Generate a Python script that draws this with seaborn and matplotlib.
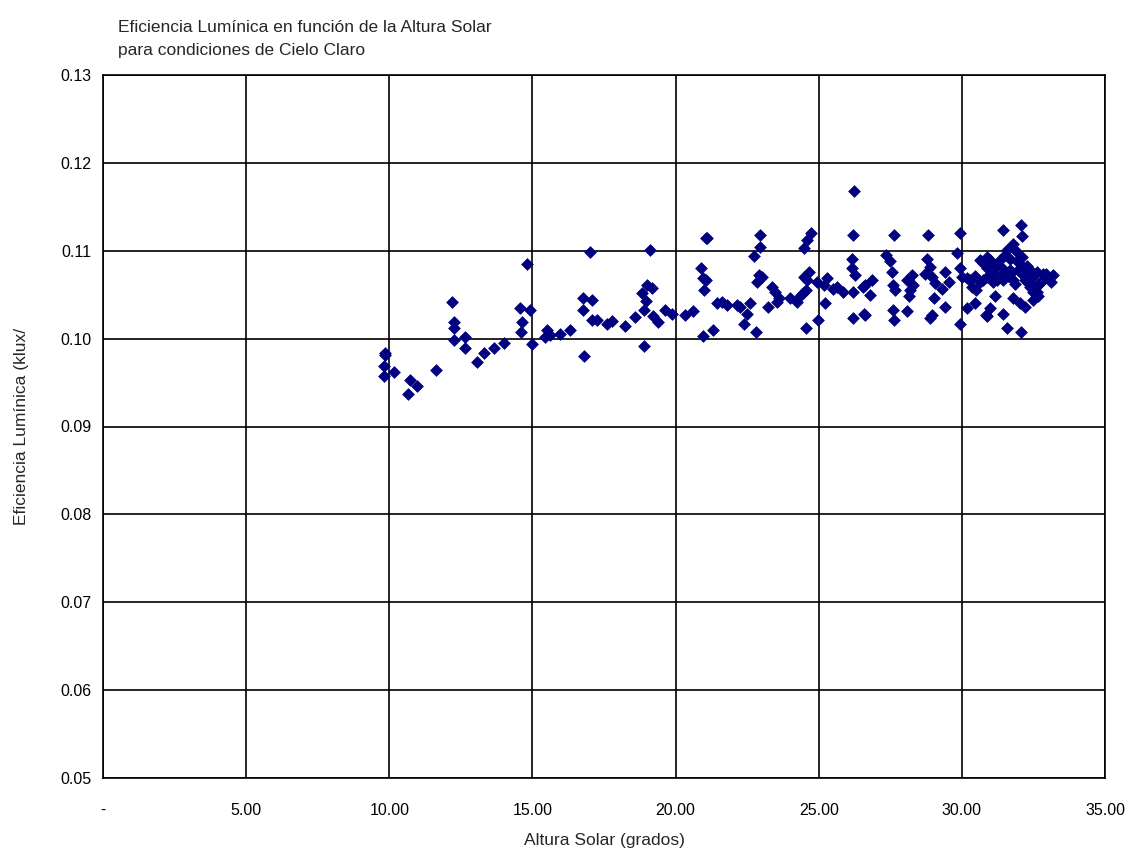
import matplotlib
matplotlib.use("Agg")
import matplotlib.pyplot as plt
import seaborn as sns
import pandas as pd

altura = [
    9.85, 9.85, 9.81, 9.81, 10.16, 10.72, 10.96, 10.65, 11.63,
    12.19, 12.26, 12.26, 12.26, 12.64, 12.64, 13.05, 13.31, 13.66, 14.01,
    14.59, 14.63, 14.57, 14.91, 14.80, 14.97,
    15.50, 15.45, 15.61, 15.96, 16.31, 16.80, 16.77, 16.77, 17.07, 17.01,
    17.07, 17.24, 17.59, 17.77, 18.23, 18.58, 18.91, 18.91, 18.82, 18.99,
    19.16, 18.97, 19.11, 19.21, 19.38, 19.63, 19.86, 20.33, 20.61, 20.95,
    20.89, 20.96, 20.99, 21.06,
    21.11, 21.06, 21.30, 21.43, 21.61, 21.78, 22.13, 22.25, 22.60, 22.48,
    22.39, 22.81, 22.74, 22.95, 22.95, 22.92, 22.83, 23.01, 23.24, 23.36,
    23.47, 23.62, 23.55, 23.99, 24.23, 24.34, 24.46, 24.55, 24.58, 24.67,
    24.48, 24.55, 24.48, 24.60, 24.72, 24.99, 24.95, 25.22, 25.18, 25.28,
    25.51, 25.63, 25.86, 26.19, 26.19, 26.15, 26.15, 26.27, 26.21, 26.23,
    26.56, 26.59,
    26.62, 26.85, 26.79, 26.62, 27.64, 27.35, 27.49, 27.55, 27.60, 27.66,
    27.58, 27.63, 28.07, 28.07, 28.19, 28.30, 28.25, 28.16, 28.83, 28.77,
    28.89, 28.71, 28.94, 29.06, 29.03, 28.94, 28.89, 29.41, 29.29, 29.56,
    29.41, 29.93, 29.82, 29.93, 29.99, 29.93, 30.17, 30.28, 30.51, 30.46,
    30.63, 30.84, 30.87,
    31.42, 32.05, 32.09, 31.80, 31.57, 31.33, 30.87, 30.87, 31.10, 31.39,
    31.68, 31.91, 32.09, 31.97, 32.14, 32.38, 32.49, 32.61, 32.84, 33.01,
    33.19, 32.78, 32.38, 31.80, 31.45, 31.10, 30.75, 32.49, 32.67, 32.49,
    31.80, 32.03, 32.20, 31.16, 31.00, 30.87, 31.42, 31.57, 32.05,
    30.17, 30.34, 30.63, 30.75, 30.98, 31.22, 31.45, 31.68, 32.38, 32.61,
    32.26, 31.25, 31.60, 31.85, 32.20, 32.55, 32.95, 33.10, 31.05, 30.45,
    31.90, 32.30, 32.70, 31.50, 31.75, 32.15,
]

eficiencia = [
    0.0984, 0.0981, 0.0969, 0.0957, 0.0962, 0.0953, 0.0946, 0.0937, 0.0964,
    0.1042, 0.1019, 0.1012, 0.0998, 0.1002, 0.0989, 0.0973, 0.0984, 0.0989, 0.0995,
    0.1008, 0.1019, 0.1035, 0.1033, 0.1085, 0.0994,
    0.1010, 0.1002, 0.1004, 0.1005, 0.1010, 0.0980, 0.1033, 0.1046, 0.1044, 0.1099,
    0.1021, 0.1021, 0.1017, 0.1020, 0.1014, 0.1025, 0.0992, 0.1033, 0.1052, 0.1061,
    0.1058, 0.1043, 0.1101, 0.1026, 0.1019, 0.1033, 0.1028, 0.1027, 0.1031, 0.1003,
    0.1080, 0.1069, 0.1055, 0.1115,
    0.1114, 0.1067, 0.1010, 0.1040, 0.1042, 0.1038, 0.1038, 0.1036, 0.1040, 0.1028,
    0.1017, 0.1008, 0.1094, 0.1104, 0.1118, 0.1072, 0.1065, 0.1070, 0.1036, 0.1059,
    0.1053, 0.1046, 0.1042, 0.1046, 0.1042, 0.1048, 0.1052, 0.1055, 0.1067, 0.1076,
    0.1070, 0.1012, 0.1103, 0.1112, 0.1120, 0.1021, 0.1065, 0.1040, 0.1061, 0.1069,
    0.1057, 0.1059, 0.1053, 0.1053, 0.1023, 0.1080, 0.1091, 0.1072, 0.1118, 0.1168,
    0.1059, 0.1028,
    0.1061, 0.1067, 0.1050, 0.1027, 0.1118, 0.1095, 0.1088, 0.1076, 0.1061, 0.1055,
    0.1033, 0.1021, 0.1031, 0.1067, 0.1055, 0.1061, 0.1072, 0.1048, 0.1118, 0.1091,
    0.1082, 0.1074, 0.1070, 0.1063, 0.1046, 0.1027, 0.1023, 0.1076, 0.1057, 0.1065,
    0.1036, 0.1120, 0.1097, 0.1080, 0.1070, 0.1017, 0.1035, 0.1067, 0.1055, 0.1040,
    0.1089, 0.1027, 0.1070,
    0.1124, 0.1129, 0.1117, 0.1108, 0.1101, 0.1089, 0.1093, 0.1080, 0.1076, 0.1080,
    0.1091, 0.1088, 0.1093, 0.1078, 0.1072, 0.1078, 0.1070, 0.1076, 0.1074, 0.1069,
    0.1072, 0.1065, 0.1065, 0.1067, 0.1067, 0.1065, 0.1067, 0.1053, 0.1048, 0.1044,
    0.1046, 0.1040, 0.1036, 0.1048, 0.1035, 0.1026, 0.1028, 0.1012, 0.1008,
    0.1069, 0.1059, 0.1065, 0.1086, 0.1089, 0.1067, 0.1073, 0.1078, 0.1059, 0.1053,
    0.1083, 0.1084, 0.1071, 0.1062, 0.1067, 0.1058, 0.1073, 0.1064, 0.1084, 0.1071,
    0.1100, 0.1070, 0.1062, 0.1095, 0.1076, 0.1081,
]

x_ticks = [0, 5, 10, 15, 20, 25, 30, 35]
x_tick_labels = ["-", "5.00", "10.00", "15.00", "20.00", "25.00", "30.00", "35.00"]
y_ticks = [0.05, 0.06, 0.07, 0.08, 0.09, 0.10, 0.11, 0.12, 0.13]
y_tick_labels = ["0.05", "0.06", "0.07", "0.08", "0.09", "0.10", "0.11", "0.12", "0.13"]

df = pd.DataFrame({"altura": altura, "eficiencia": eficiencia})

sns.set_style("white")
plt.rcParams["font.family"] = ["Liberation Sans", "DejaVu Sans"]

fig = plt.figure(figsize=(11.28, 8.49), dpi=100)
ax = fig.add_axes([103 / 1128, 1 - 778 / 849, (1105 - 103) / 1128, (778 - 75) / 849])

sns.scatterplot(data=df, x="altura", y="eficiencia", ax=ax, marker="D",
                s=36, color="#000080", edgecolor="#000080", linewidth=0.5,
                zorder=3)

ax.set_xlim(0, 35)
ax.set_ylim(0.05, 0.13)
ax.set_xticks(x_ticks)
ax.set_xticklabels(x_tick_labels, fontsize=11.5)
ax.set_yticks(y_ticks)
ax.set_yticklabels(y_tick_labels, fontsize=11.5)
ax.grid(True, color="black", linewidth=1.2)
ax.set_axisbelow(True)
for sp in ax.spines.values():
    sp.set_color("black")
    sp.set_linewidth(1.2)
ax.tick_params(axis="both", direction="out", length=5, width=1.0, color="black",
               labelcolor="black")
ax.tick_params(axis="x", pad=13)
ax.set_xlabel("Altura Solar (grados)", fontsize=12.5)
ax.xaxis.set_label_coords(0.5, -0.078)
ax.set_ylabel("Eficiencia Lumínica (klux/", fontsize=12.5)
ax.yaxis.set_label_coords(-0.074, 0.5)

fig.text(118 / 1128, 1 - 27 / 849, "Eficiencia Lumínica en función de la Altura Solar",
         fontsize=12.5, ha="left", va="center")
fig.text(118 / 1128, 1 - 50 / 849, "para condiciones de Cielo Claro",
         fontsize=12.5, ha="left", va="center")

fig.savefig("out.png", dpi=100, facecolor="white")
